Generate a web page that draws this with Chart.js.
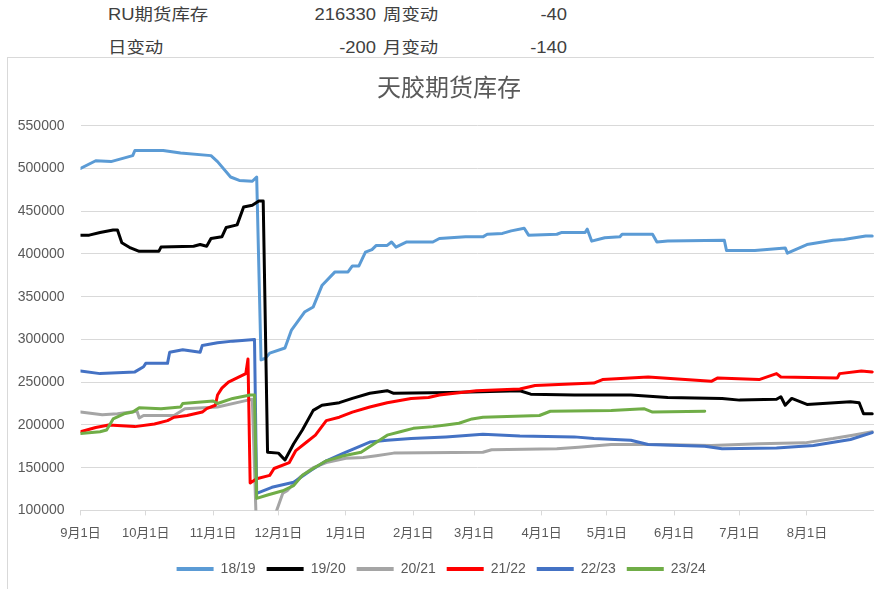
<!DOCTYPE html>
<html>
<head>
<meta charset="utf-8">
<script src="https://cdn.jsdelivr.net/npm/chart.js@4/dist/chart.umd.min.js"></script>
<style>
  html, body { margin: 0; padding: 0; background: #fff; overflow: hidden; }
  body { width: 874px; height: 589px; position: relative; font-family: "Liberation Sans", "Noto Sans CJK SC", sans-serif; }
  .hd { position: absolute; font-size: 16px; color: #404040; line-height: 20px; white-space: nowrap; transform: scaleX(1.15); transform-origin: left center; }
  .r { text-align: right; transform-origin: right center; }
  #box { position: absolute; left: 7px; top: 57px; width: 900px; height: 560px; border: 1px solid #d9d9d9; box-sizing: border-box; }
  #title { position: absolute; left: 249px; width: 400px; top: 74px; text-align: center; font-size: 24px; line-height: 28px; color: #595959; }
  #wrap { position: absolute; left: 8px; top: 58px; width: 890px; height: 528px; }
</style>
</head>
<body>
<div class="hd" style="left:108px; top:5px;">RU期货库存</div>
<div class="hd r" style="left:276px; width:100px; top:5px;">216330</div>
<div class="hd" style="left:383px; top:5px;">周变动</div>
<div class="hd r" style="left:467px; width:100px; top:5px;">-40</div>
<div class="hd" style="left:108px; top:38px;">日变动</div>
<div class="hd r" style="left:276px; width:100px; top:38px;">-200</div>
<div class="hd" style="left:383px; top:38px;">月变动</div>
<div class="hd r" style="left:467px; width:100px; top:38px;">-140</div>
<div id="box"></div>
<div id="wrap"><canvas id="stock-chart"></canvas></div>
<div id="title">天胶期货库存</div>
<script>
// days counted from 9月1日
const monthDays = [0, 30, 61, 91, 122, 153, 181, 212, 242, 273, 303, 334, 365];
const monthLabels = ["9月1日", "10月1日", "11月1日", "12月1日", "1月1日", "2月1日", "3月1日",
  "4月1日", "5月1日", "6月1日", "7月1日", "8月1日", ""];

const days1819 = [0, 7, 14, 24, 25, 38, 46, 60, 63, 69, 73, 79, 81, 83, 85, 87, 94, 97, 103, 107,
  111, 117, 123, 125, 128, 131, 134, 136, 141, 143, 145, 150, 162, 165, 177, 185, 187, 194, 198,
  204, 206, 219, 221, 232, 233, 235, 241, 248, 249, 263, 265, 270, 296, 297, 310, 324, 325, 334,
  346, 351, 361, 364];
const vals1819 = [500000, 509000, 508000, 515000, 521000, 521000, 518000, 515000, 508000, 490000,
  486000, 485000, 490000, 276000, 278000, 284000, 290000, 311000, 332000, 338000, 363000, 379000,
  379000, 386000, 386000, 402000, 405000, 410000, 410000, 414000, 408000, 414000, 414000, 418000,
  420000, 420000, 423000, 424000, 427000, 430000, 422000, 423000, 425000, 425000, 429000, 415000,
  419000, 420000, 423000, 423000, 414000, 415000, 416000, 404000, 404000, 407000, 401000, 411000,
  416000, 417000, 421000, 421000];

const days1920 = [0, 4, 9, 15, 17, 19, 23, 27, 36, 37, 52, 55, 58, 60, 65, 67, 72, 75, 79, 82, 84,
  86, 91, 94, 98, 102, 107, 111, 119, 125, 133, 141, 144, 170, 202, 207, 227, 253, 270, 295, 303,
  320, 322, 324, 327, 334, 354, 358, 360, 364];
const vals1920 = [422000, 422000, 425000, 428000, 428000, 413000, 407000, 403000, 403000, 408000,
  409000, 411000, 409000, 418000, 420000, 431000, 434000, 455000, 457000, 462000, 462000, 168000,
  167000, 159000, 178000, 194000, 217000, 223000, 226000, 231000, 237000, 240000, 237000, 238000,
  240000, 236000, 235000, 235000, 232000, 231000, 229000, 230000, 233000, 223000, 231000, 224000,
  227000, 226000, 213000, 213000];

const days2021 = [0, 10, 17, 26, 27, 29, 43, 48, 63, 77, 79, 81, 86, 93, 95, 101, 107, 113, 122,
  130, 136, 144, 185, 189, 219, 229, 244, 266, 290, 312, 333, 346, 355, 364];
const vals2021 = [215000, 212000, 213000, 216000, 208000, 211000, 211000, 219000, 221000, 229000,
  230000, 70000, 70000, 120000, 123000, 139000, 150000, 156000, 161000, 162000, 164000, 167000,
  168000, 171000, 172000, 174000, 177000, 177000, 176000, 178000, 179000, 184000, 188000, 192000];

const days2122 = [0, 7, 13, 25, 34, 40, 43, 49, 56, 58, 62, 63, 65, 68, 72, 76, 77, 78, 81, 87, 89,
  96, 99, 104, 108, 113, 119, 125, 133, 141, 152, 160, 165, 182, 202, 209, 236, 240, 261, 290, 293,
  312, 320, 322, 348, 349, 359, 364];
const vals2122 = [192000, 197000, 200000, 198000, 201000, 205000, 209000, 211000, 215000, 219000,
  223000, 235000, 243000, 250000, 255000, 260000, 277000, 132000, 137000, 141000, 149000, 156000,
  170000, 180000, 188000, 205000, 209000, 215000, 221000, 226000, 231000, 232000, 235000, 240000,
  242000, 246000, 249000, 253000, 256000, 251000, 255000, 253000, 260000, 256000, 255000, 260000,
  263000, 262000];

const days2223 = [0, 9, 25, 29, 30, 40, 41, 47, 55, 56, 63, 70, 80, 81, 88, 98, 106, 113, 121, 133,
  141, 152, 168, 185, 202, 227, 236, 253, 261, 287, 295, 320, 337, 354, 364];
const vals2223 = [263000, 260000, 262000, 268000, 272000, 272000, 285000, 288000, 285000, 293000,
  296000, 298000, 300000, 120000, 127000, 133000, 147000, 158000, 167000, 180000, 182000, 184000,
  186000, 189000, 187000, 186000, 184000, 182000, 177000, 175000, 172000, 173000, 176000, 183000,
  191000];

const days2324 = [0, 9, 12, 15, 20, 24, 27, 37, 46, 47, 61, 63, 70, 78, 80, 81, 86, 93, 98, 102, 107,
  113, 121, 129, 135, 141, 147, 153, 162, 168, 174, 180, 185, 211, 216, 244, 259, 263, 287];
const vals2324 = [190000, 192000, 194000, 207000, 213000, 215000, 220000, 219000, 221000, 225000,
  228000, 225000, 231000, 235000, 235000, 114000, 118000, 123000, 129000, 141000, 149000, 158000,
  164000, 168000, 178000, 188000, 192000, 196000, 198000, 200000, 202000, 207000, 209000, 211000,
  216000, 217000, 219000, 215000, 216000];

const seriesNames = ["18/19", "19/20", "20/21", "21/22", "22/23", "23/24"];
const seriesColors = ["#5b9bd5", "#000000", "#a5a5a5", "#ff0000", "#4472c4", "#70ad47"];
const seriesDays = [days1819, days1920, days2021, days2122, days2223, days2324];
const seriesVals = [vals1819, vals1920, vals2021, vals2122, vals2223, vals2324];

const yTicks = [100000, 150000, 200000, 250000, 300000, 350000, 400000, 450000, 500000, 550000];

(function () {
  const ctx = document.getElementById("stock-chart");
  Chart.defaults.font.family = "'Liberation Sans', 'Noto Sans CJK SC', sans-serif";
  Chart.defaults.color = "#595959";

  const datasets = seriesNames.map((name, i) => ({
    label: name,
    data: seriesDays[i].map((d, j) => ({ x: d, y: seriesVals[i][j] })),
    borderColor: seriesColors[i],
    backgroundColor: seriesColors[i],
    borderWidth: 3,
    pointRadius: 0,
    pointStyle: "line",
    borderJoinStyle: "round",
    borderCapStyle: "round",
    tension: 0,
    order: seriesNames.length - i,
  }));

  new Chart(ctx, {
    type: "line",
    data: { datasets },
    options: {
      responsive: true,
      maintainAspectRatio: false,
      animation: false,
      layout: { padding: { left: 0, right: 23.6, top: 67.7, bottom: 0 } },
      plugins: {
        title: { display: false },
        legend: {
          position: "bottom",
          labels: {
            usePointStyle: true,
            pointStyleWidth: 37,
            padding: 11,
            color: "#595959",
            font: { size: 14 },
            sort: (a, b) => a.datasetIndex - b.datasetIndex,
            generateLabels: (chart) =>
              Chart.defaults.plugins.legend.labels.generateLabels(chart)
                .map((l) => ({ ...l, lineWidth: 4 })),
          },
        },
        tooltip: { enabled: false },
      },
      scales: {
        x: {
          type: "linear",
          min: 0,
          max: 365,
          afterBuildTicks: (s) => { s.ticks = monthDays.map((v) => ({ value: v })); },
          ticks: {
            autoSkip: false,
            maxRotation: 0,
            padding: 10,
            color: "#595959",
            font: { size: 13 },
            callback: (v) => monthLabels[monthDays.indexOf(v)],
          },
          grid: { drawOnChartArea: false, drawTicks: true, tickLength: 5, color: "#d9d9d9" },
          border: { color: "#d9d9d9" },
        },
        y: {
          min: 100000,
          max: 550000,
          afterBuildTicks: (s) => { s.ticks = yTicks.map((v) => ({ value: v })); },
          afterFit: (s) => { s.width = 72.5; },
          ticks: {
            padding: 16,
            color: "#595959",
            font: { size: 14 },
            callback: (v) => String(v),
          },
          grid: { color: "#d9d9d9", drawTicks: false },
          border: { display: false },
        },
      },
    },
  });
})();
</script>
</body>
</html>
